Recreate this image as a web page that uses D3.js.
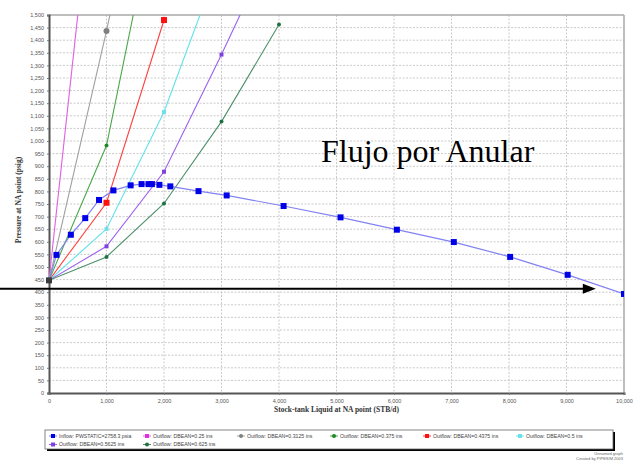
<!DOCTYPE html>
<html>
<head>
<meta charset="utf-8">
<script src="https://cdn.jsdelivr.net/npm/d3@7"></script>
<style>
  html, body { margin: 0; padding: 0; background: #fff; }
  svg { display: block; }
</style>
</head>
<body>
<svg id="chart" width="634" height="464"></svg>
<script>
// ---------- DATA ----------
const inflowName = "Inflow: PWSTATIC=2758.3 psia";
const inflowQ = [0, 130, 380, 630, 870, 1120, 1420, 1610, 1730, 1790, 1920, 2110, 2600, 3090, 4080, 5070, 6050, 7040, 8020, 9020, 10000];
const inflowP = [447, 548, 628, 694, 766, 804, 824, 829, 829, 829, 826, 820, 801, 784, 742, 697, 648, 599, 540, 469, 393];

const outflowNames = [
  "Outflow: DBEAN=0.25 ins",
  "Outflow: DBEAN=0.3125 ins",
  "Outflow: DBEAN=0.375 ins",
  "Outflow: DBEAN=0.4375 ins",
  "Outflow: DBEAN=0.5 ins",
  "Outflow: DBEAN=0.5625 ins",
  "Outflow: DBEAN=0.625 ins"
];
const outflowQ = [
  [0, 1000],
  [0, 1000, 2000],
  [0, 1000, 2000],
  [0, 1000, 2000],
  [0, 1000, 2000, 3000],
  [0, 1000, 2000, 3000, 4000],
  [0, 1000, 2000, 3000, 4000]
];
const outflowP = [
  [447, 2550],
  [447, 1437, 2500],
  [447, 982, 2095],
  [447, 755, 1480],
  [447, 651, 1115, 1730],
  [447, 582, 878, 1343, 1830],
  [447, 540, 752, 1077, 1462]
];

const xTicks = [0, 1000, 2000, 3000, 4000, 5000, 6000, 7000, 8000, 9000, 10000];
const yTicks = d3.range(0, 1501, 50);

const xTitle = "Stock-tank Liquid at NA point (STB/d)";
const yTitle = "Pressure at NA point (psig)";
const annotation = "Flujo por Anular";
const annotationQ = 4730, annotationP = 917;
const arrowP = 414, arrowEndQ = 9510;

// ---------- STYLES ----------
const inflowStyle = { line: "#8282f2", marker: "#0000e6", shape: "square", size: 6 };
const outflowStyle = [
  { line: "#e060e0", marker: "#e030e0", shape: "square", size: 4 },
  { line: "#a0a0a0", marker: "#808080", shape: "circle", size: 6 },
  { line: "#4aa84a", marker: "#208820", shape: "circle", size: 4 },
  { line: "#ff4040", marker: "#ff1010", shape: "square", size: 6 },
  { line: "#60e2ea", marker: "#70e0e8", shape: "square", size: 4 },
  { line: "#9a60f0", marker: "#8040e0", shape: "square", size: 4 },
  { line: "#4a9068", marker: "#207040", shape: "circle", size: 4 }
];

// ---------- CHART ----------
const svg = d3.select("#chart");
const L = 49, R = 624, T = 15, B = 393;
const x = d3.scaleLinear().domain([0, 10000]).range([L, R]);
const y = d3.scaleLinear().domain([0, 1500]).range([B, T]);

svg.append("defs").append("clipPath").attr("id", "plotclip")
  .append("rect").attr("x", L).attr("y", T).attr("width", R - L).attr("height", B - T);

// grid
const grid = svg.append("g");
grid.selectAll("line.h").data(yTicks.filter(d => d > 0 && d < 1500)).join("line")
  .attr("x1", L).attr("x2", R).attr("y1", d => y(d)).attr("y2", d => y(d))
  .attr("stroke", "#bdbdbd").attr("stroke-width", 0.8).attr("stroke-dasharray", "2,1.5");
grid.selectAll("line.v").data(xTicks.filter(d => d > 0 && d < 10000)).join("line")
  .attr("y1", T).attr("y2", B).attr("x1", d => x(d)).attr("x2", d => x(d))
  .attr("stroke", "#bdbdbd").attr("stroke-width", 0.8).attr("stroke-dasharray", "2,1.5");

// frame (top/right)
svg.append("line").attr("x1", L).attr("x2", R).attr("y1", T).attr("y2", T)
  .attr("stroke", "#a8a8a8").attr("stroke-width", 1.5);
svg.append("line").attr("x1", R).attr("x2", R).attr("y1", T).attr("y2", B)
  .attr("stroke", "#a8a8a8").attr("stroke-width", 1.5);

// axes
const yAxis = d3.axisLeft(y).tickValues(yTicks).tickFormat(d3.format(",")).tickSize(2).tickPadding(3);
const xAxis = d3.axisBottom(x).tickValues(xTicks).tickFormat(d3.format(",")).tickSize(2).tickPadding(4);
const gy = svg.append("g").attr("transform", `translate(${L},0)`).call(yAxis);
const gx = svg.append("g").attr("transform", `translate(0,${B})`).call(xAxis);
[gy, gx].forEach(g => {
  g.select(".domain").attr("stroke", "#555").attr("stroke-width", 2);
  g.selectAll(".tick line").attr("stroke", "#777");
  g.selectAll(".tick text").attr("fill", "#555").attr("font-size", "5.5px")
    .attr("font-family", "Liberation Sans, Arial, sans-serif");
});

// titles
svg.append("text").attr("x", (L + R) / 2).attr("y", 412).attr("text-anchor", "middle")
  .attr("font-family", "Liberation Serif, Times New Roman, serif").attr("font-weight", "bold")
  .attr("font-size", "7.5px").attr("fill", "#333").text(xTitle);
svg.append("text").attr("transform", `translate(21,${(T + B) / 2 - 4}) rotate(-90)`).attr("text-anchor", "middle")
  .attr("font-family", "Liberation Serif, Times New Roman, serif").attr("font-weight", "bold")
  .attr("font-size", "7.5px").attr("fill", "#333").text(yTitle);

// series
const plot = svg.append("g").attr("clip-path", "url(#plotclip)");
const lineGen = d3.line().x(d => x(d[0])).y(d => y(d[1]));

function drawMarkers(g, pts, st) {
  pts.forEach(p => {
    if (st.shape === "square") {
      g.append("rect").attr("x", x(p[0]) - st.size / 2).attr("y", y(p[1]) - st.size / 2)
        .attr("width", st.size).attr("height", st.size).attr("fill", st.marker);
    } else {
      g.append("circle").attr("cx", x(p[0])).attr("cy", y(p[1])).attr("r", st.size / 2)
        .attr("fill", st.marker);
    }
  });
}

outflowNames.forEach((n, i) => {
  const pts = outflowQ[i].map((q, j) => [q, outflowP[i][j]]);
  plot.append("path").datum(pts).attr("d", lineGen).attr("fill", "none")
    .attr("stroke", outflowStyle[i].line).attr("stroke-width", 1.1);
});
const inflowPts = inflowQ.map((q, j) => [q, inflowP[j]]);
plot.append("path").datum(inflowPts).attr("d", lineGen).attr("fill", "none")
  .attr("stroke", inflowStyle.line).attr("stroke-width", 1.2);

outflowNames.forEach((n, i) => {
  const pts = outflowQ[i].map((q, j) => [q, outflowP[i][j]]).filter(p => p[0] > 0);
  drawMarkers(plot, pts, outflowStyle[i]);
});
drawMarkers(plot, inflowPts.filter(p => p[0] > 0), inflowStyle);
// common start point (overlapping markers appear dark)
drawMarkers(svg, [[inflowQ[0], inflowP[0]]], { marker: "#3a3a3a", shape: "square", size: 6 });

// annotation text
svg.append("text").attr("x", x(annotationQ)).attr("y", y(annotationP))
  .attr("font-family", "Liberation Serif, Times New Roman, serif").attr("font-size", "32px")
  .attr("fill", "#000").text(annotation);

// arrow
const ay = y(arrowP), ax = x(arrowEndQ);
svg.append("line").attr("x1", 0).attr("x2", ax - 10).attr("y1", ay).attr("y2", ay)
  .attr("stroke", "#000").attr("stroke-width", 2);
svg.append("path").attr("d", `M${ax},${ay} L${ax - 13},${ay - 5} L${ax - 13},${ay + 5} Z`).attr("fill", "#000");

// legend
const lg = svg.append("g");
const lgL = 45, lgT = 430, lgW = 568, lgH = 19;
lg.append("rect").attr("x", lgL + 2).attr("y", lgT + 2).attr("width", lgW).attr("height", lgH).attr("fill", "#000");
lg.append("rect").attr("x", lgL).attr("y", lgT).attr("width", lgW).attr("height", lgH)
  .attr("fill", "#fff").attr("stroke", "#666").attr("stroke-width", 0.8);
const legendItems = [{ name: inflowName, st: inflowStyle }]
  .concat(outflowNames.map((n, i) => ({ name: n, st: outflowStyle[i] })));
const colX = [50, 144, 238, 331, 424, 517];
legendItems.forEach((it, k) => {
  const row = k < 6 ? 0 : 1;
  const col = k < 6 ? k : k - 6;
  const cx = colX[col] + 3, cy = row === 0 ? 436 : 444.5;
  lg.append("line").attr("x1", cx - 4).attr("x2", cx + 4).attr("y1", cy).attr("y2", cy)
    .attr("stroke", it.st.line).attr("stroke-width", 1);
  if (it.st.shape === "square") {
    lg.append("rect").attr("x", cx - 2).attr("y", cy - 2).attr("width", 4).attr("height", 4).attr("fill", it.st.marker);
  } else {
    lg.append("circle").attr("cx", cx).attr("cy", cy).attr("r", 2).attr("fill", it.st.marker);
  }
  lg.append("text").attr("x", cx + 6).attr("y", cy + 1.8)
    .attr("font-family", "Liberation Sans, Arial, sans-serif").attr("font-size", "5.2px")
    .attr("fill", "#444").text(it.name);
});

// footer
svg.append("text").attr("x", 623).attr("y", 455).attr("text-anchor", "end")
  .attr("font-family", "Liberation Sans, Arial, sans-serif").attr("font-size", "4px").attr("fill", "#666")
  .text("Unnamed graph");
svg.append("text").attr("x", 623).attr("y", 460).attr("text-anchor", "end")
  .attr("font-family", "Liberation Sans, Arial, sans-serif").attr("font-size", "4px").attr("fill", "#666")
  .text("Created by PIPESIM 2003");
</script>
</body>
</html>
